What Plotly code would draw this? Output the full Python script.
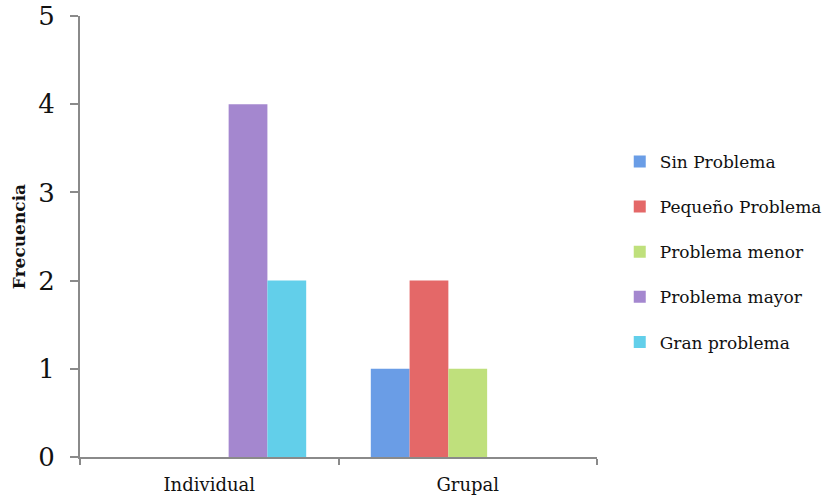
import plotly.graph_objects as go

categories = ["Individual", "Grupal"]
series_names = ["Sin Problema", "Pequeño Problema", "Problema menor", "Problema mayor", "Gran problema"]
sin_problema = [0, 1]
pequeno_problema = [0, 2]
problema_menor = [0, 1]
problema_mayor = [4, 0]
gran_problema = [2, 0]
y_ticks = [0, 1, 2, 3, 4, 5]

series_values = [sin_problema, pequeno_problema, problema_menor, problema_mayor, gran_problema]
colors = ["#6A9DE6", "#E46868", "#BFE07C", "#A487CF", "#62CFEA"]

fig = go.Figure()
for name, vals, col in zip(series_names, series_values, colors):
    fig.add_trace(go.Bar(
        x=categories, y=vals, name=name, legendgroup=name,
        marker=dict(color=col, line=dict(width=0)),
    ))

serif = "DejaVu Serif"
ink = "#111111"
fig.update_layout(
    width=836, height=497,
    margin=dict(l=80, r=239, t=16, b=40, autoexpand=False),
    paper_bgcolor="white", plot_bgcolor="white",
    barmode="group", bargap=0.25, bargroupgap=0,
    font=dict(family=serif, color=ink),
    legend=dict(
        x=1.044, xanchor="left", y=0.465, yanchor="middle",
        traceorder="grouped", tracegroupgap=20,
        font=dict(family=serif, size=17, color=ink),
        itemwidth=30, bgcolor="rgba(0,0,0,0)",
    ),
    xaxis=dict(
        automargin=False,
        showline=True, linecolor="#8a8a8a", linewidth=2,
        ticks="outside", ticklen=6, tickcolor="#8a8a8a", tickwidth=2,
        tickson="boundaries", showgrid=False,
        ticklabelstandoff=10,
        tickfont=dict(family=serif, size=18, color=ink),
    ),
    yaxis=dict(
        automargin=False,
        range=[0, 5], tickvals=y_ticks,
        showline=True, linecolor="#8a8a8a", linewidth=2,
        ticks="outside", ticklen=8, tickcolor="#8a8a8a", tickwidth=2,
        showgrid=False, zeroline=False,
        ticklabelstandoff=10,
        tickfont=dict(family=serif, size=26, color=ink),
        title=dict(text="<b>Frecuencia</b>", font=dict(family=serif, size=17, color=ink), standoff=8),
    ),
)

fig.write_html("out.html")
